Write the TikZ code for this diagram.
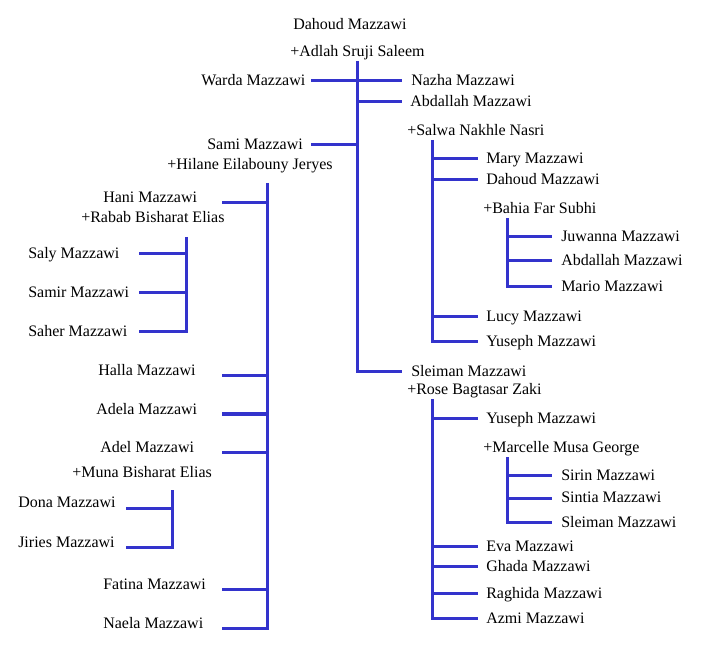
\documentclass[tikz,border=0pt]{standalone}
\usepackage{fontspec}
\setmainfont{Liberation Serif}
\definecolor{linkblue}{RGB}{51,51,204}
\tikzset{
  person/.style={anchor=west, inner sep=0pt, text height=7.5pt, text depth=0pt},
  personb/.style={anchor=base west, inner sep=0pt},
  bar/.style={draw=linkblue, line width=2.25pt},
}
\begin{document}
\begin{tikzpicture}[x=0.75pt, y=-0.75pt, font=\fontsize{12}{14}\selectfont]
    \useasboundingbox (0,0) rectangle (715,656);

    % Root couple
    \node[personb] (dahoud) at (293,30) {Dahoud Mazzawi};
    \node[personb] (adlah) at (290,57) {+Adlah Sruji Saleem};
    \coordinate (t0) at (357,61);

    % Their children
    \node[person] (warda) at (201,81) {Warda Mazzawi};
    \node[person] (nazha) at (411,81) {Nazha Mazzawi};
    \node[person] (abdallah) at (410,102) {Abdallah Mazzawi};
    \node[personb] (salwa) at (407,136) {+Salwa Nakhle Nasri};
    \node[person] (sami) at (207,145) {Sami Mazzawi};
    \node[personb] (hilane) at (167,170) {+Hilane Eilabouny Jeryes};
    \node[person] (sleiman) at (411,372) {Sleiman Mazzawi};
    \node[personb] (rose) at (407,395) {+Rose Bagtasar Zaki};

    \foreach \k in {warda,sami}
        \draw[bar] (t0 |- \k.west) -- ++(-46,0);
    \foreach \k in {nazha,abdallah}
        \draw[bar] (t0 |- \k.west) -- ++(45,0);
    \draw[bar] (t0) -- (t0 |- sleiman.west) -- ++(45,0);

    % Abdallah + Salwa
    \coordinate (t1) at (432,140);
    \node[person] (mary) at (486,159) {Mary Mazzawi};
    \node[person] (dahoud2) at (486,180) {Dahoud Mazzawi};
    \node[personb] (bahia) at (483,214) {+Bahia Far Subhi};
    \node[person] (lucy) at (486,317) {Lucy Mazzawi};
    \node[person] (yuseph) at (486,342) {Yuseph Mazzawi};
    \foreach \k in {mary,dahoud2,lucy}
        \draw[bar] (t1 |- \k.west) -- ++(46,0);
    \draw[bar] (t1) -- (t1 |- yuseph.west) -- ++(46,0);

    % Dahoud + Bahia
    \coordinate (t2) at (507,218);
    \node[person] (juwanna) at (561,237) {Juwanna Mazzawi};
    \node[person] (abdallah2) at (561,261) {Abdallah Mazzawi};
    \node[person] (mario) at (561,287) {Mario Mazzawi};
    \foreach \k in {juwanna,abdallah2}
        \draw[bar] (t2 |- \k.west) -- ++(45,0);
    \draw[bar] (t2) -- (t2 |- mario.west) -- ++(45,0);

    % Sami + Hilane
    \coordinate (t3) at (267,183);
    \node[personb] (hani) at (103,203) {Hani Mazzawi};
    \node[personb] (rabab) at (81,223) {+Rabab Bisharat Elias};
    \node[personb] (halla) at (98,376) {Halla Mazzawi};
    \node[personb] (adela) at (96,414) {Adela Mazzawi};
    \node[personb] (adel) at (100,452) {Adel Mazzawi};
    \node[personb] (muna) at (72,477) {+Muna Bisharat Elias};
    \node[personb] (fatina) at (103,589) {Fatina Mazzawi};
    \node[personb] (naela) at (103,628) {Naela Mazzawi};
    \foreach \k in {hani,halla,adela,adel,fatina}
        \draw[bar] (t3 |- \k.base) -- ++(-45,0);
    \draw[bar] (t3) -- (t3 |- naela.base) -- ++(-45,0);

    % Hani + Rabab
    \coordinate (t4) at (186,237);
    \node[person] (saly) at (28,254) {Saly Mazzawi};
    \node[person] (samir) at (28,293) {Samir Mazzawi};
    \node[person] (saher) at (28,332) {Saher Mazzawi};
    \foreach \k in {saly,samir}
        \draw[bar] (t4 |- \k.west) -- ++(-47,0);
    \draw[bar] (t4) -- (t4 |- saher.west) -- ++(-47,0);

    % Adel + Muna
    \coordinate (t5) at (172,490);
    \node[personb] (dona) at (18,508) {Dona Mazzawi};
    \node[personb] (jiries) at (18,547) {Jiries Mazzawi};
    \draw[bar] (t5 |- dona.base) -- ++(-46,0);
    \draw[bar] (t5) -- (t5 |- jiries.base) -- ++(-46,0);

    % Sleiman + Rose
    \coordinate (t6) at (432,399);
    \node[person] (yuseph2) at (486,418) {Yuseph Mazzawi};
    \node[personb] (marcelle) at (483,452) {+Marcelle Musa George};
    \node[person] (eva) at (486,546) {Eva Mazzawi};
    \node[person] (ghada) at (486,566) {Ghada Mazzawi};
    \node[person] (raghida) at (486,593) {Raghida Mazzawi};
    \node[person] (azmi) at (486,618) {Azmi Mazzawi};
    \foreach \k in {yuseph2,eva,ghada,raghida}
        \draw[bar] (t6 |- \k.west) -- ++(46,0);
    \draw[bar] (t6) -- (t6 |- azmi.west) -- ++(46,0);

    % Yuseph + Marcelle
    \coordinate (t7) at (507,457);
    \node[person] (sirin) at (561,475) {Sirin Mazzawi};
    \node[person] (sintia) at (561,498) {Sintia Mazzawi};
    \node[person] (sleiman2) at (561,522) {Sleiman Mazzawi};
    \foreach \k in {sirin,sintia}
        \draw[bar] (t7 |- \k.west) -- ++(45,0);
    \draw[bar] (t7) -- (t7 |- sleiman2.west) -- ++(45,0);
\end{tikzpicture}
\end{document}
